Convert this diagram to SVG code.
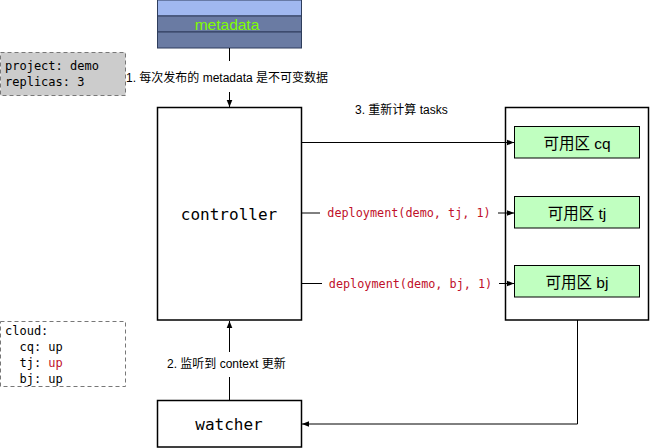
<svg xmlns="http://www.w3.org/2000/svg" width="650" height="448" viewBox="0 0 650 448">
<defs>
<marker id="arr" viewBox="0 0 10 10" refX="10" refY="5" markerWidth="7" markerHeight="7" orient="auto" markerUnits="userSpaceOnUse">
<path d="M0,1 L10,5 L0,9 Z" fill="#000"/>
</marker>
<style>
.box{fill:#fff;stroke:#000;stroke-width:1.5}
.az{fill:#C0FFC0;stroke:#000;stroke-width:1}
.mono{font-family:"DejaVu Sans Mono","Liberation Mono",monospace}
.sans{font-family:"Liberation Sans","Noto Sans CJK SC",sans-serif}
.edge{fill:none;stroke:#000;stroke-width:1}
.note{stroke:#777;stroke-width:1;stroke-dasharray:4 3}
</style>
</defs>
<rect width="650" height="448" fill="#fff"/>

<g id="metadata">
<rect x="157.5" y="0" width="144" height="16" fill="#A0B8F0" stroke="#2E3D5C"/>
<rect x="157.5" y="16" width="144" height="16" fill="#6A7BA3" stroke="#2E3D5C"/>
<rect x="157.5" y="32" width="144" height="16" fill="#6A7BA3" stroke="#2E3D5C"/>
<text x="227" y="29.5" text-anchor="middle" class="sans" font-size="15.5" fill="#80FF00">metadata</text>
</g>

<g id="project-note">
<rect x="0.5" y="52.5" width="125" height="43" fill="#CCCCCC" class="note"/>
<text x="5" y="69.5" class="mono" font-size="12">project: demo</text>
<text x="5" y="86" class="mono" font-size="12">replicas: 3</text>
</g>

<g id="cloud-note">
<rect x="0.5" y="321.5" width="125" height="65" fill="#fff" class="note"/>
<text x="5" y="334.5" class="mono" font-size="12">cloud:</text>
<text x="5" y="350.5" class="mono" font-size="12" xml:space="preserve">  cq: up</text>
<text x="5" y="366.5" class="mono" font-size="12" xml:space="preserve">  tj: <tspan fill="#C0102A">up</tspan></text>
<text x="5" y="382.5" class="mono" font-size="12" xml:space="preserve">  bj: up</text>
</g>

<g id="controller">
<rect x="157.5" y="107.5" width="144" height="212.5" class="box"/>
<text x="229" y="220" text-anchor="middle" class="mono" font-size="16">controller</text>
</g>

<g id="zones">
<rect x="505.5" y="107.5" width="143" height="212.5" class="box"/>
</g>

<g id="zone-cq">
<rect x="514.5" y="126.5" width="125" height="31.5" class="az"/>
<text x="577" y="148.5" text-anchor="middle" class="sans" font-size="15.5">可用区 cq</text>
</g>
<g id="zone-tj">
<rect x="514.5" y="196.5" width="125" height="31.5" class="az"/>
<text x="577" y="218.5" text-anchor="middle" class="sans" font-size="15.5">可用区 tj</text>
</g>
<g id="zone-bj">
<rect x="514.5" y="265.5" width="125" height="31.5" class="az"/>
<text x="577" y="287.5" text-anchor="middle" class="sans" font-size="15.5">可用区 bj</text>
</g>

<g id="watcher">
<rect x="157.5" y="400.5" width="144" height="46.5" class="box"/>
<text x="229" y="429.5" text-anchor="middle" class="mono" font-size="16">watcher</text>
</g>

<g id="connectors">
<path d="M229.5,48 V61" class="edge"/>
<path d="M229.5,92 V107" class="edge" marker-end="url(#arr)"/>
<text x="126" y="81.5" class="sans" font-size="12">1. 每次发布的 metadata 是不可变数据</text>

<path d="M301.5,142.5 H514" class="edge" stroke="#333" marker-end="url(#arr)"/>
<text x="355" y="113.5" class="sans" font-size="12">3. 重新计算 tasks</text>

<path d="M301.5,213 H320" class="edge"/>
<path d="M498,213 H514" class="edge" marker-end="url(#arr)"/>
<text x="409" y="217" text-anchor="middle" class="mono" font-size="11.8" fill="#C0102A">deployment(demo, tj, 1)</text>

<path d="M301.5,283.5 H322" class="edge"/>
<path d="M499,283.5 H514" class="edge" marker-end="url(#arr)"/>
<text x="410.5" y="288" text-anchor="middle" class="mono" font-size="11.8" fill="#C0102A">deployment(demo, bj, 1)</text>

<path d="M229.5,400 V377" class="edge"/>
<path d="M229.5,352 V321" class="edge" marker-end="url(#arr)"/>
<text x="167" y="368" class="sans" font-size="12">2. 监听到 context 更新</text>

<path d="M577.5,320 V424 H302" class="edge" stroke="#333" marker-end="url(#arr)"/>
</g>
</svg>
